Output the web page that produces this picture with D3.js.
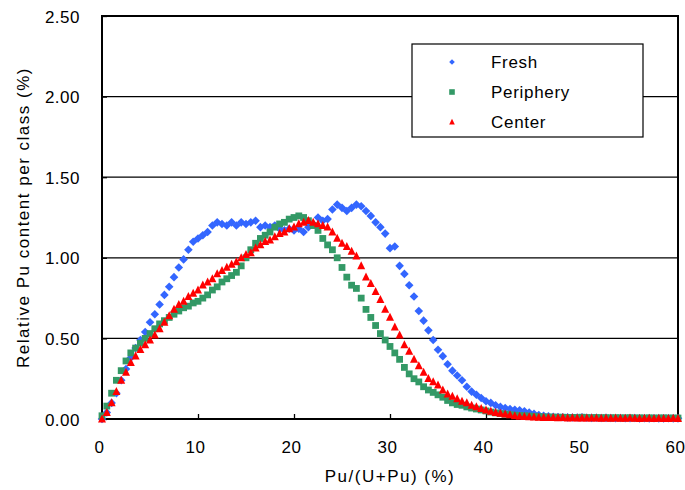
<!DOCTYPE html>
<html>
<head>
<meta charset="utf-8">
<script src="https://cdnjs.cloudflare.com/ajax/libs/d3/7.8.5/d3.min.js"></script>
<style>
  body { margin: 0; background: #fff; }
  text { font-family: "Liberation Sans", Arial, sans-serif; fill: #000; }
</style>
</head>
<body>
<div class="chart"></div>
<script>
// Pu content classes (%), one value every 0.5 % from 0 to 60
const classStep = 0.5;

// Relative Pu content per class (%)
const fresh = [
  0.00, 0.04, 0.10, 0.16, 0.24, 0.31, 0.38, 0.44, 0.49, 0.54,
  0.60, 0.65, 0.71, 0.77, 0.82, 0.88, 0.94, 0.99, 1.05, 1.10,
  1.12, 1.14, 1.16, 1.20, 1.22, 1.21, 1.20, 1.22, 1.20, 1.22,
  1.21, 1.22, 1.23, 1.19, 1.20, 1.19, 1.20, 1.18, 1.17, 1.18,
  1.17, 1.18, 1.16, 1.19, 1.21, 1.25, 1.23, 1.24, 1.30, 1.33,
  1.31, 1.29, 1.31, 1.33, 1.32, 1.29, 1.26, 1.22, 1.19, 1.15,
  1.06, 1.07, 0.95, 0.90, 0.83, 0.76, 0.67, 0.61, 0.55, 0.49,
  0.43, 0.39, 0.34, 0.30, 0.27, 0.24, 0.20, 0.17, 0.15, 0.13,
  0.11, 0.10, 0.085, 0.075, 0.068, 0.062, 0.057, 0.054, 0.048, 0.040,
  0.032, 0.025, 0.020, 0.017, 0.014, 0.012, 0.011, 0.010, 0.009, 0.009,
  0.010, 0.008, 0.007, 0.008, 0.006, 0.007, 0.006, 0.005, 0.006, 0.005,
  0.005, 0.006, 0.004, 0.005, 0.004, 0.005, 0.004, 0.004, 0.005, 0.004,
  0.004
];

const periphery = [
  0.02, 0.08, 0.16, 0.24, 0.30, 0.36, 0.41, 0.44, 0.47, 0.50,
  0.53, 0.56, 0.59, 0.61, 0.63, 0.65, 0.67, 0.69, 0.70, 0.72,
  0.73, 0.75, 0.77, 0.80, 0.82, 0.85, 0.87, 0.89, 0.91, 0.95,
  1.00, 1.05, 1.09, 1.12, 1.14, 1.16, 1.19, 1.21, 1.22, 1.24,
  1.25, 1.26, 1.25, 1.23, 1.20, 1.17, 1.12, 1.08, 1.05, 1.00,
  0.94, 0.88, 0.83, 0.81, 0.75, 0.68, 0.63, 0.58, 0.53, 0.49,
  0.45, 0.41, 0.37, 0.32, 0.28, 0.25, 0.23, 0.20, 0.18, 0.165,
  0.15, 0.135, 0.115, 0.10, 0.09, 0.085, 0.075, 0.068, 0.062, 0.056,
  0.050, 0.043, 0.038, 0.034, 0.030, 0.027, 0.024, 0.022, 0.020, 0.018,
  0.016, 0.014, 0.013, 0.012, 0.012, 0.011, 0.011, 0.010, 0.010, 0.009,
  0.011, 0.009, 0.008, 0.009, 0.008, 0.008, 0.007, 0.008, 0.007, 0.007,
  0.008, 0.006, 0.007, 0.006, 0.007, 0.006, 0.006, 0.007, 0.006, 0.006,
  0.006
];

const center = [
  0.00, 0.04, 0.10, 0.17, 0.24, 0.29, 0.35, 0.39, 0.43, 0.46,
  0.49, 0.52, 0.56, 0.60, 0.64, 0.68, 0.71, 0.73, 0.76, 0.78,
  0.80, 0.83, 0.85, 0.87, 0.90, 0.92, 0.94, 0.96, 0.975, 1.00,
  1.02, 1.03, 1.06, 1.08, 1.10, 1.11, 1.13, 1.15, 1.16, 1.18,
  1.19, 1.21, 1.22, 1.23, 1.22, 1.21, 1.20, 1.19, 1.16, 1.12,
  1.09, 1.07, 1.04, 1.01, 0.95, 0.88, 0.84, 0.79, 0.74, 0.68,
  0.63, 0.57, 0.52, 0.46, 0.42, 0.37, 0.33, 0.29, 0.25, 0.23,
  0.21, 0.18, 0.155, 0.14, 0.125, 0.11, 0.10, 0.085, 0.075, 0.065,
  0.055, 0.048, 0.040, 0.035, 0.030, 0.025, 0.020, 0.017, 0.015, 0.013,
  0.012, 0.010, 0.009, 0.008, 0.009, 0.007, 0.008, 0.006, 0.007, 0.006,
  0.006, 0.005, 0.006, 0.005, 0.004, 0.005, 0.004, 0.005, 0.004, 0.004,
  0.005, 0.004, 0.003, 0.004, 0.004, 0.003, 0.004, 0.003, 0.003, 0.004,
  0.003
];

const seriesNames = ['Fresh', 'Periphery', 'Center'];
const xTicks = [0, 10, 20, 30, 40, 50, 60];
const yTicks = [0, 0.5, 1.0, 1.5, 2.0, 2.5];

// Set up chart dimensions
const margin = { top: 16, right: 7, bottom: 71, left: 102 };
const width = 685 - margin.left - margin.right;
const height = 490 - margin.top - margin.bottom;

const svg = d3.select('.chart')
  .append('svg')
  .attr('width', 685)
  .attr('height', 490)
  .append('g')
  .attr('transform', `translate(${margin.left},${margin.top})`);

const x = d3.scaleLinear().domain([0, 60]).range([0, width]);
const y = d3.scaleLinear().domain([0, 2.5]).range([height, 0]);

// horizontal gridlines
svg.selectAll('.grid')
  .data(yTicks.slice(1, -1))
  .enter()
  .append('line')
  .attr('x1', 0)
  .attr('x2', width)
  .attr('y1', d => y(d))
  .attr('y2', d => y(d))
  .attr('stroke', '#000')
  .attr('stroke-width', 1.3);

// axes with inward ticks
const xAxis = svg.append('g')
  .attr('transform', `translate(0,${height})`)
  .call(d3.axisBottom(x).tickValues(xTicks).tickSizeInner(-5).tickSizeOuter(0).tickPadding(22));

const yAxis = svg.append('g')
  .call(d3.axisLeft(y).tickValues(yTicks).tickFormat(d3.format('.2f')).tickSizeInner(-5).tickSizeOuter(0).tickPadding(22));

[xAxis, yAxis].forEach(function(a) {
  a.select('.domain').remove();
  a.selectAll('line').attr('stroke', '#000').attr('stroke-width', 1.3);
  a.selectAll('text')
    .style('font-family', '"Liberation Sans", Arial, sans-serif')
    .style('font-size', '17px')
    .style('letter-spacing', '0.5px')
    .attr('fill', '#000');
});
xAxis.selectAll('text').attr('dy', '0.71em').attr('y', 22).attr('dx', -3);
yAxis.selectAll('text').attr('dy', '0.36em');

// plot frame
svg.append('rect')
  .attr('x', 0)
  .attr('y', 0)
  .attr('width', width)
  .attr('height', height)
  .attr('fill', 'none')
  .attr('stroke', '#000')
  .attr('stroke-width', 2);

// marker shapes
const shapes = {
  Fresh: r => `M0,${-r}L${r},0L0,${r}L${-r},0Z`,
  Periphery: r => `M${-r},${-r}H${r}V${r}H${-r}Z`,
  Center: r => `M0,${-r * 1.15}L${r},${r * 0.85}L${-r},${r * 0.85}Z`
};
const colors = { Fresh: '#3366FF', Periphery: '#339966', Center: '#FF0000' };
const sizes = { Fresh: 4.3, Periphery: 3.4, Center: 4.0 };

const allSeries = [fresh, periphery, center];

allSeries.forEach(function(values, k) {
  const name = seriesNames[k];
  svg.append('g')
    .selectAll('path')
    .data(values)
    .enter()
    .append('path')
    .attr('transform', (d, i) => `translate(${x(i * classStep)},${y(d)})`)
    .attr('d', shapes[name](sizes[name]))
    .attr('fill', colors[name]);
});

// axis titles
svg.append('text')
  .attr('x', width / 2)
  .attr('y', height + 63)
  .attr('text-anchor', 'middle')
  .style('font-size', '17px')
  .style('letter-spacing', '1.5px')
  .text('Pu/(U+Pu) (%)');

svg.append('text')
  .attr('transform', 'rotate(-90)')
  .attr('x', -height / 2)
  .attr('y', -73)
  .attr('text-anchor', 'middle')
  .style('font-size', '17px')
  .style('letter-spacing', '1.5px')
  .text('Relative Pu content per class (%)');

// legend
const legend = svg.append('g')
  .attr('transform', `translate(${412 - margin.left},${44 - margin.top})`);

legend.append('rect')
  .attr('width', 231)
  .attr('height', 93)
  .attr('fill', '#fff')
  .attr('stroke', '#000')
  .attr('stroke-width', 1.2);

seriesNames.forEach(function(name, i) {
  const row = legend.append('g').attr('transform', `translate(0,${18 + i * 30})`);
  row.append('path')
    .attr('transform', 'translate(40,0)')
    .attr('d', shapes[name](2.8))
    .attr('fill', colors[name]);
  row.append('text')
    .attr('x', 79)
    .attr('dy', '0.36em')
    .style('font-size', '17px')
    .style('letter-spacing', '0.7px')
    .text(name);
});
</script>
</body>
</html>
